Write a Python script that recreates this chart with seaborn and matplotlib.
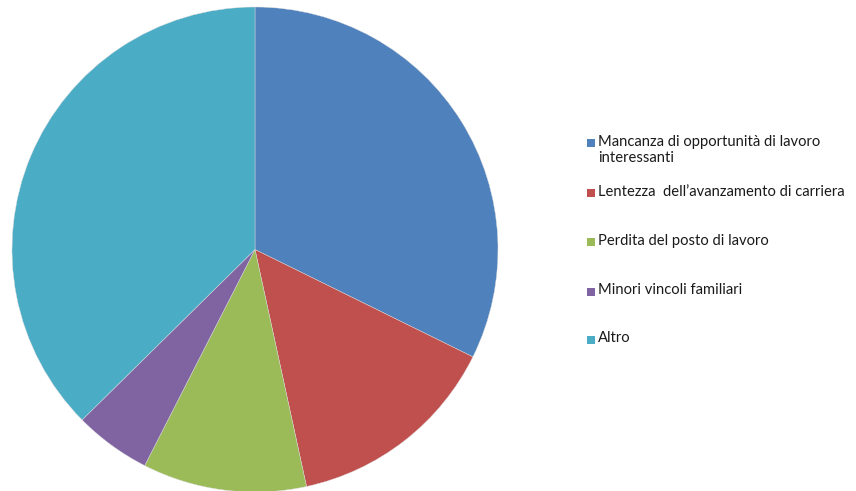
import matplotlib
matplotlib.use("Agg")
import matplotlib.pyplot as plt
import seaborn as sns
from matplotlib.patches import Rectangle

# Motivi e quote
labels = [
    "Mancanza di opportunità di lavoro\ninteressanti",
    "Lentezza  dell\u2019avanzamento di carriera",
    "Perdita del posto di lavoro",
    "Minori vincoli familiari",
    "Altro",
]
values = [32.3, 14.3, 10.9, 5.1, 37.4]
colors = ["#4F81BD", "#C0504D", "#9BBB59", "#8064A2", "#4BACC6"]

sns.set_theme(style="white")
plt.rcParams["font.family"] = ["Lato", "DejaVu Sans"]

W, H = 856, 491
fig = plt.figure(figsize=(W / 100, H / 100), dpi=100)
fig.patch.set_facecolor("white")

# pie area in pixels: left, top, width, height
px_l, px_t, px_w, px_h = 12, 7, 486, 485
ax = fig.add_axes([px_l / W, 1 - (px_t + px_h) / H, px_w / W, px_h / H])
ax.pie(values, colors=colors, startangle=90, counterclock=False,
       radius=1.0, wedgeprops=dict(linewidth=0.3, edgecolor="#dddddd"))
ax.set_xlim(-1.0, 1.0)
ax.set_ylim(-1.0, 1.0)
ax.set_aspect("auto")
ax.axis("off")

# legend on the right
legend_y = [143, 193, 242, 292, 340]
for lab, col, y in zip(labels, colors, legend_y):
    fig.patches.append(Rectangle((587 / W, 1 - (y + 4) / H), 8 / W, 8 / H,
                                 transform=fig.transFigure, facecolor=col,
                                 edgecolor="none"))
    fig.text(598 / W, 1 - (y - 8.5) / H, lab, ha="left", va="top",
             fontsize=10.6, color="#1a1a1a", linespacing=1.2)

fig.savefig("out.png", dpi=100, facecolor="white")
